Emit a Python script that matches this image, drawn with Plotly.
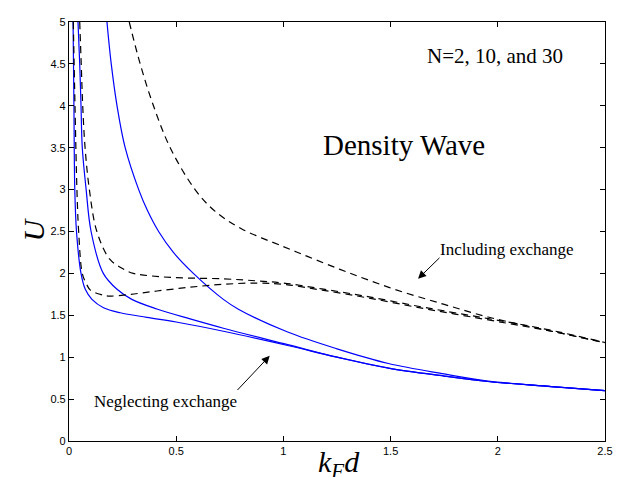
import plotly.graph_objects as go

# ---- data ----
blue_n2_x = [0.019, 0.023, 0.027, 0.035, 0.056, 0.076, 0.107, 0.161, 0.239, 0.363, 0.5, 0.72, 1.02, 1.25, 1.49, 1.75, 1.954, 2.25, 2.45, 2.5]
blue_n2_y = [5.0, 4.0, 3.0, 2.5, 2.0, 1.81, 1.69, 1.59, 1.53, 1.476, 1.42, 1.31, 1.14, 1.0, 0.87, 0.775, 0.71, 0.65, 0.61, 0.6]

blue_n10_x = [0.042, 0.05, 0.056, 0.062, 0.08, 0.103, 0.16, 0.224, 0.293, 0.41, 0.565, 0.72, 1.02, 1.25, 1.49, 1.75, 1.954, 2.25, 2.5]
blue_n10_y = [5.0, 4.5, 4.0, 3.5, 3.0, 2.5, 2.0, 1.81, 1.69, 1.575, 1.457, 1.346, 1.15, 1.0, 0.87, 0.775, 0.71, 0.65, 0.6]

blue_n30_x = [0.177, 0.197, 0.224, 0.262, 0.325, 0.366, 0.418, 0.487, 0.58, 0.72, 0.79, 1.02, 1.25, 1.49, 1.75, 1.954, 2.25, 2.5]
blue_n30_y = [5.0, 4.5, 4.0, 3.5, 3.0, 2.75, 2.5, 2.25, 2.0, 1.69, 1.573, 1.30, 1.1, 0.925, 0.8, 0.715, 0.65, 0.6]

dash_n2_x = [0.02, 0.028, 0.037, 0.045, 0.062, 0.08, 0.1, 0.146, 0.19, 0.286, 0.41, 0.565, 0.72, 0.88, 1.0, 1.18, 1.4, 1.645, 1.8, 2.11, 2.27, 2.5]
dash_n2_y = [5.0, 4.0, 3.0, 2.5, 2.0, 1.88, 1.8, 1.75, 1.73, 1.75, 1.79, 1.835, 1.87, 1.885, 1.87, 1.80, 1.705, 1.585, 1.515, 1.375, 1.30, 1.17]

dash_n10_x = [0.05, 0.057, 0.064, 0.075, 0.095, 0.13, 0.19, 0.255, 0.3, 0.348, 0.488, 0.72, 0.88, 1.0, 1.18, 1.4, 1.645, 1.8, 2.11, 2.27, 2.5]
dash_n10_y = [5.0, 4.5, 4.0, 3.5, 3.0, 2.5, 2.17, 2.05, 2.0, 1.98, 1.95, 1.935, 1.91, 1.885, 1.815, 1.72, 1.60, 1.53, 1.39, 1.31, 1.175]

dash_n30_x = [0.281, 0.332, 0.394, 0.472, 0.588, 0.682, 0.806, 1.0, 1.115, 1.303, 1.519, 1.75, 1.954, 2.25, 2.5]
dash_n30_y = [5.0, 4.5, 4.0, 3.5, 3.0, 2.74, 2.53, 2.32, 2.2, 2.01, 1.81, 1.63, 1.48, 1.31, 1.175]

x_ticks = [0, 0.5, 1, 1.5, 2, 2.5]
x_tick_labels = ["0", "0.5", "1", "1.5", "2", "2.5"]
y_ticks = [0, 0.5, 1, 1.5, 2, 2.5, 3, 3.5, 4, 4.5, 5]
y_tick_labels = ["0", "0.5", "1", "1.5", "2", "2.5", "3", "3.5", "4", "4.5", "5"]

fig = go.Figure()

for xs, ys in [(blue_n2_x, blue_n2_y), (blue_n10_x, blue_n10_y), (blue_n30_x, blue_n30_y)]:
    fig.add_trace(go.Scatter(x=xs, y=ys, mode="lines",
                             line=dict(color="#0000FF", width=1.2, shape="spline", smoothing=1.0),
                             showlegend=False, hoverinfo="skip"))
for xs, ys in [(dash_n2_x, dash_n2_y), (dash_n10_x, dash_n10_y), (dash_n30_x, dash_n30_y)]:
    fig.add_trace(go.Scatter(x=xs, y=ys, mode="lines",
                             line=dict(color="black", width=1.2, dash="7px,5px", shape="spline", smoothing=1.0),
                             showlegend=False, hoverinfo="skip"))

axis_common = dict(showline=True, linecolor="black", linewidth=1.2, mirror="ticks", ticks="inside", ticklen=5,
                   tickcolor="black", showgrid=False, zeroline=False,
                   tickfont=dict(family="Liberation Sans, Arial", size=11, color="black"))

fig.update_xaxes(range=[0, 2.5], tickvals=x_ticks, ticktext=x_tick_labels, **axis_common)
fig.update_yaxes(range=[0, 5], tickvals=y_ticks, ticktext=y_tick_labels, **axis_common)

serif = "Liberation Serif, Times New Roman, serif"
annotations = [
    dict(x=0.503, y=-0.004, xref="paper", yref="paper", text="<i>k<sub>F</sub>d</i>", showarrow=False,
         xanchor="center", yanchor="top", font=dict(family=serif, size=30, color="black")),
    dict(x=-0.066, y=0.504, xref="paper", yref="paper", text="<i>U</i>", showarrow=False, textangle=-90,
         xanchor="center", yanchor="middle", font=dict(family=serif, size=30, color="black")),
    dict(x=1.987, y=4.59, xref="x", yref="y", text="N=2, 10, and 30", showarrow=False,
         font=dict(family=serif, size=21, color="black")),
    dict(x=1.563, y=3.53, xref="x", yref="y", text="Density Wave", showarrow=False,
         font=dict(family=serif, size=29, color="black")),
    dict(x=2.043, y=2.28, xref="x", yref="y", text="Including exchange", showarrow=False,
         font=dict(family=serif, size=17, color="black")),
    dict(x=0.45, y=0.474, xref="x", yref="y", text="Neglecting exchange", showarrow=False,
         font=dict(family=serif, size=17, color="black")),
    dict(x=1.628, y=1.936, ax=1.735, ay=2.203, xref="x", yref="y", axref="x", ayref="y", text="",
         showarrow=True, arrowhead=2, arrowsize=1.6, arrowwidth=1, arrowcolor="black"),
    dict(x=0.936, y=1.016, ax=0.779, ay=0.59, xref="x", yref="y", axref="x", ayref="y", text="",
         showarrow=True, arrowhead=2, arrowsize=1.6, arrowwidth=1, arrowcolor="black"),
]

fig.update_layout(width=621, height=477, margin=dict(l=61, r=24, t=8, b=44),
                  plot_bgcolor="white", paper_bgcolor="white", annotations=annotations)

fig.write_html("out.html")
